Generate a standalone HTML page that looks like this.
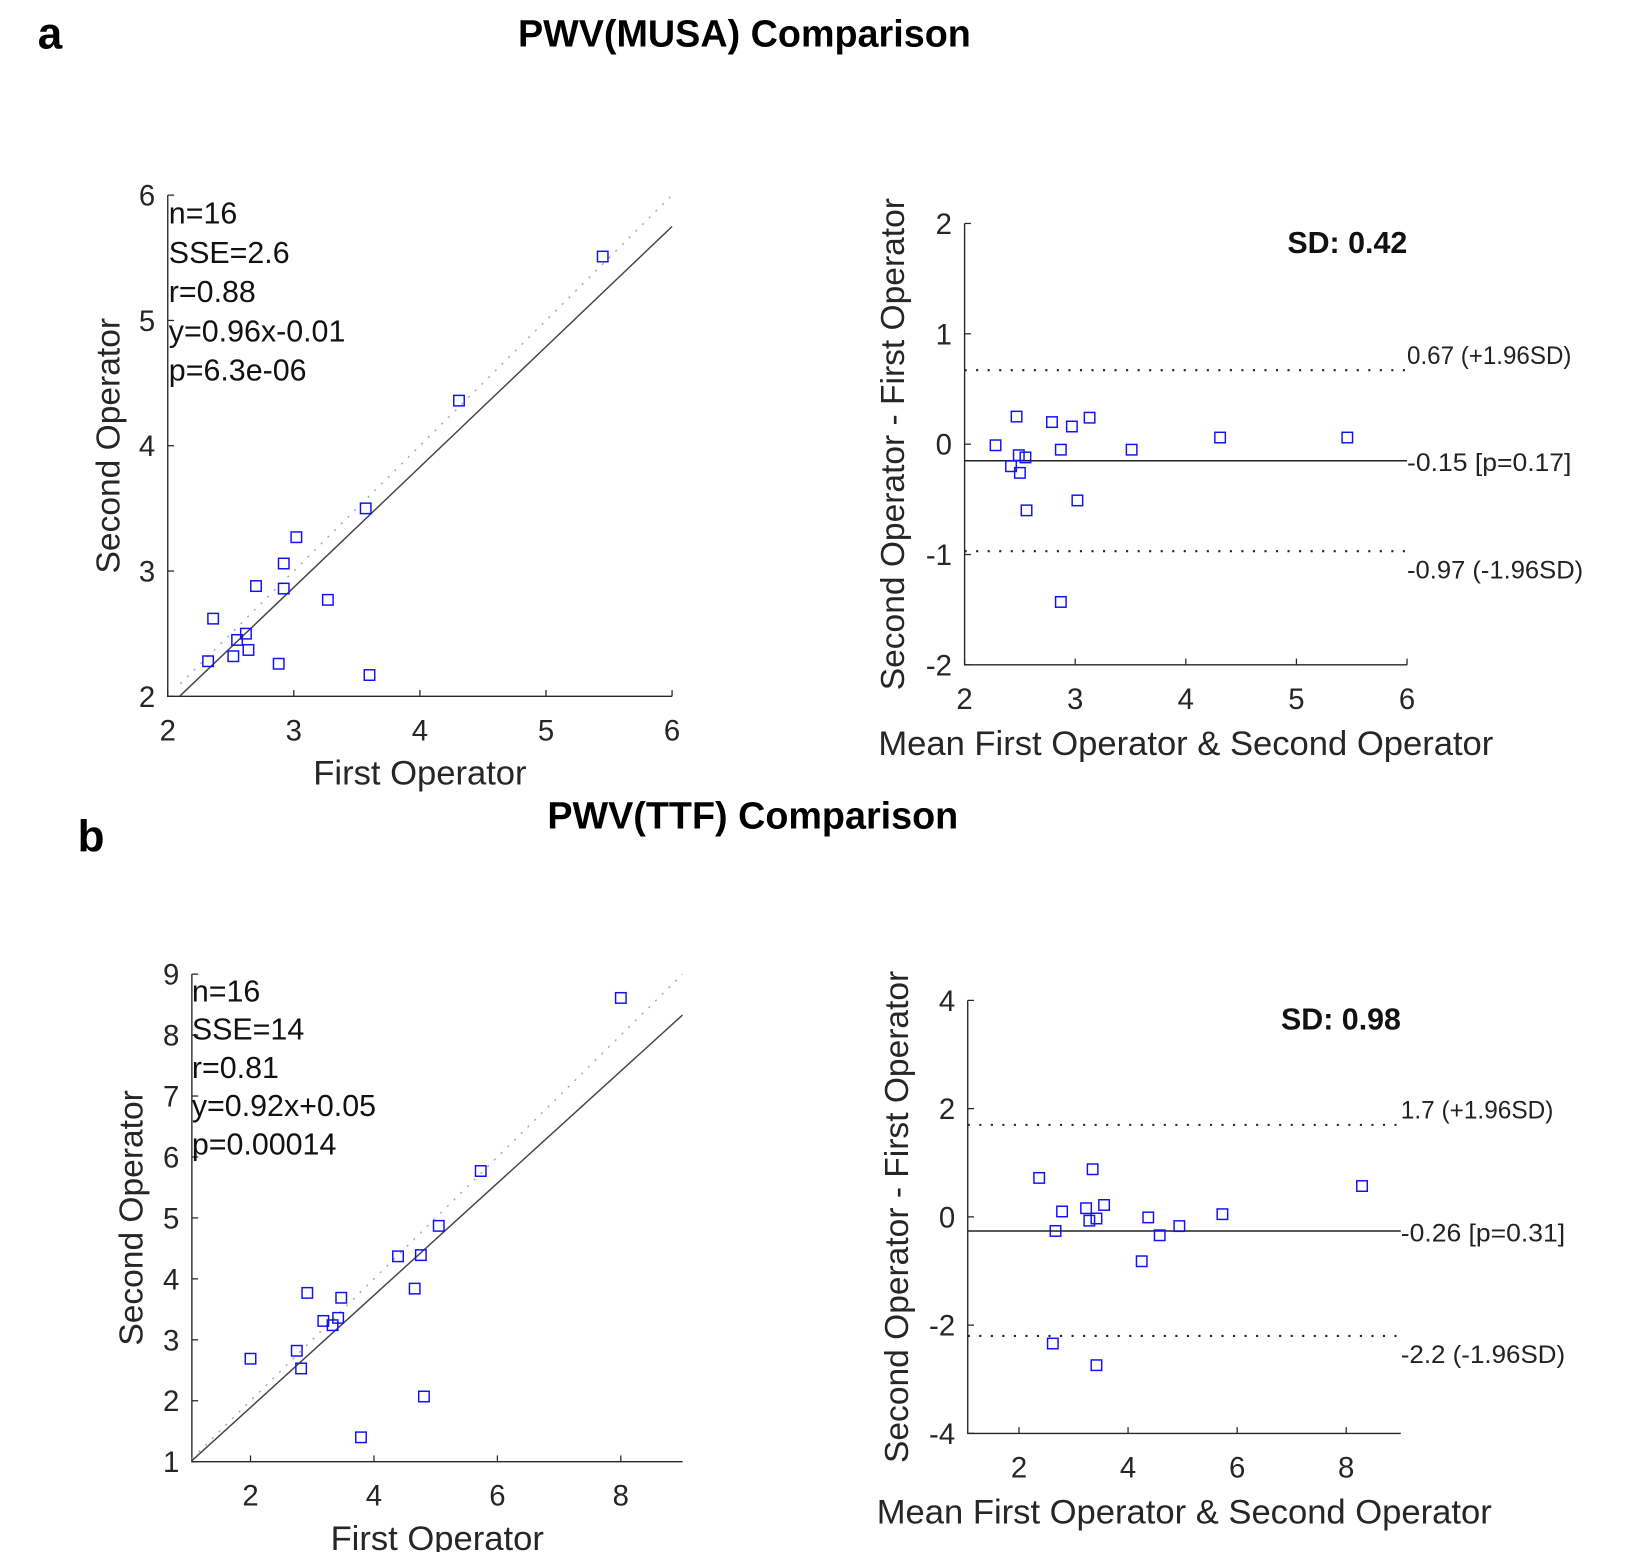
<!DOCTYPE html>
<html><head><meta charset="utf-8"><style>
html,body{margin:0;padding:0;background:#fff;}
svg{display:block;font-family:"Liberation Sans",Arial,sans-serif;}
</style></head><body>
<svg id="fig" width="1644" height="1552" viewBox="0 0 1568 1480" xmlns="http://www.w3.org/2000/svg">
<text x="36" y="46" font-size="42" font-weight="bold">a</text>
<text x="710" y="44" font-size="36" font-weight="bold" text-anchor="middle">PWV(MUSA) Comparison</text>
<text x="74" y="812" font-size="42" font-weight="bold">b</text>
<text x="718" y="790" font-size="36" font-weight="bold" text-anchor="middle">PWV(TTF) Comparison</text>
</svg>
<script>
// Panel a scatter data
const aFirst = [2.32,2.36,2.55,2.52,2.62,2.64,2.70,2.88,2.92,2.92,3.02,3.27,3.57,3.60,4.31,5.45];
const aSecond = [2.28,2.62,2.45,2.32,2.50,2.37,2.88,2.26,3.06,2.86,3.27,2.77,3.50,2.17,4.36,5.51];
const aFit = [0.96,-0.01];
const aStats = ["n=16","SSE=2.6","r=0.88","y=0.96x-0.01","p=6.3e-06"];
// Panel a Bland-Altman data
const aMean = [2.28,2.47,2.49,2.42,2.55,2.50,2.79,2.56,2.97,2.87,3.13,3.02,3.51,2.87,4.31,5.46];
const aDiff = [-0.01,0.25,-0.10,-0.20,-0.12,-0.26,0.20,-0.60,0.16,-0.05,0.24,-0.51,-0.05,-1.43,0.06,0.06];
const aLines = [0.67,-0.15,-0.97];
const aLineLabels = ["0.67 (+1.96SD)","-0.15 [p=0.17]","-0.97 (-1.96SD)"];
// Panel b scatter data
const bFirst = [2.0,2.75,2.82,2.92,3.18,3.33,3.42,3.47,3.79,4.39,4.66,4.76,4.81,5.05,5.73,8.0];
const bSecond = [2.69,2.82,2.53,3.77,3.31,3.24,3.36,3.69,1.40,4.37,3.84,4.39,2.07,4.87,5.77,8.61];
const bFit = [0.92,0.05];
const bStats = ["n=16","SSE=14","r=0.81","y=0.92x+0.05","p=0.00014"];
// Panel b Bland-Altman data
const bMean = [2.37,2.67,2.79,2.62,3.23,3.35,3.29,3.42,3.56,3.42,4.25,4.37,4.58,4.94,5.73,8.29];
const bDiff = [0.72,-0.26,0.10,-2.34,0.16,0.88,-0.07,-0.03,0.22,-2.74,-0.82,-0.01,-0.34,-0.17,0.05,0.57];
const bLines = [1.7,-0.26,-2.2];
const bLineLabels = ["1.7 (+1.96SD)","-0.26 [p=0.31]","-2.2 (-1.96SD)"];
const aXTicks=[2,3,4,5,6], aYTicks=[2,3,4,5,6], aBAYTicks=[-2,-1,0,1,2];
const bXTicks=[2,4,6,8], bYTicks=[1,2,3,4,5,6,7,8,9], bBAXTicks=[2,4,6,8], bBAYTicks=[-4,-2,0,2,4];

const svg=document.getElementById('fig');
const NS='http://www.w3.org/2000/svg';
function el(tag,attrs,parent,text){const e=document.createElementNS(NS,tag);for(const k in attrs)e.setAttribute(k,attrs[k]);if(text!==undefined)e.textContent=text;(parent||svg).appendChild(e);return e;}
function scale(d0,d1,r0,r1){return v=>r0+(v-d0)/(d1-d0)*(r1-r0);}

function axes(g,X,Y,box,xt,yt,xlabel,ylabel,ylabX){
  const [x0,x1,y0,y1]=box;
  const ax=el('path',{d:`M${x0} ${y0}V${y1}H${x1}`,fill:'none',stroke:'#262626','stroke-width':1.3},g);
  
  xt.forEach(v=>{const px=X(v);
    el('line',{x1:px,x2:px,y1:y1,y2:y1-6,stroke:'#262626','stroke-width':1.2},g);
    const t=el('text',{x:px,y:y1+42,'font-size':28,'text-anchor':'middle',fill:'#262626'},g,String(v));
    });
  yt.forEach(v=>{const py=Y(v);
    el('line',{x1:x0,x2:x0+6,y1:py,y2:py,stroke:'#262626','stroke-width':1.2},g);
    const t=el('text',{x:x0-12,y:py+10,'font-size':28,'text-anchor':'end',fill:'#262626'},g,String(v));
    });
  const xl=el('text',{x:xlabel[1],y:xlabel[2],'font-size':33,'text-anchor':'middle',fill:'#262626'},g,xlabel[0]);
  
  const yl=el('text',{x:0,y:0,'font-size':32,'text-anchor':'middle',fill:'#262626',transform:`translate(${ylabX},${(y0+y1)/2}) rotate(-90)`},g,ylabel);
  
}
function points(g,X,Y,xs,ys){
  xs.forEach((v,i)=>{const r=el('rect',{x:X(v)-5,y:Y(ys[i])-5,width:10,height:10,fill:'none',stroke:'#1010ff','stroke-width':1.4},g);
    });
}
function scatter(name,box,dom,xt,yt,xs,ys,fit,stats,fx0,statX,statY,statStep,ylabX){
  const g=el('g',{});
  const X=scale(dom[0],dom[1],box[0],box[1]),Y=scale(dom[2],dom[3],box[3],box[2]);
  axes(g,X,Y,box,xt,yt,['First Operator',(box[0]+box[1])/2,box[3]+84],'Second Operator',ylabX);
  const id=el('line',{x1:X(fx0),y1:Y(fx0),x2:X(dom[1]),y2:Y(dom[1]),stroke:'#aaa','stroke-width':1.4,'stroke-dasharray':'2 7'},g);
  
  const xa=(dom[2]-fit[1])/fit[0];const xs0=Math.max(xa,dom[0]);
  const fl=el('line',{x1:X(xs0),y1:Y(fit[0]*xs0+fit[1]),x2:X(dom[1]),y2:Y(fit[0]*dom[1]+fit[1]),stroke:'#444','stroke-width':1.4},g);
  
  points(g,X,Y,xs,ys);
  stats.forEach((s,i)=>{const t=el('text',{x:statX,y:statY+i*statStep,'font-size':29,fill:'#111'},g,s);
    });
}
function ba(name,box,dom,xt,yt,xs,ys,lines,labels,sd,sdPos,ylabX){
  const g=el('g',{});
  const X=scale(dom[0],dom[1],box[0],box[1]),Y=scale(dom[2],dom[3],box[3],box[2]);
  axes(g,X,Y,box,xt,yt,['Mean First Operator & Second Operator',(box[0]+box[1])/2,box[3]+86],'Second Operator - First Operator',ylabX);
  lines.forEach((v,i)=>{const l=el('line',{x1:box[0],x2:box[1],y1:Y(v),y2:Y(v),stroke:'#222','stroke-width':i===1?1.4:2,'stroke-dasharray':i===1?'none':'2 9'},g);
    
    const t=el('text',{x:box[1],y:Y(v)+(i===1?10:(i===0?-6:26)),'font-size':24,fill:'#222',textLength:labels[i].length*11.2,lengthAdjust:'spacingAndGlyphs'},g,labels[i]);
    });
  points(g,X,Y,xs,ys);
  const s=el('text',{x:sdPos[0],y:sdPos[1],'font-size':29,'font-weight':'bold','text-anchor':'middle',fill:'#111'},g,sd);
  
}
scatter('scatter-musa',[160,641,186,664],[2,6,2,6],aXTicks,aYTicks,aFirst,aSecond,aFit,aStats,2.1,161,213,37.5,114);
ba('bland-altman-musa',[920,1342,213,634],[2,6,-2,2],[2,3,4,5,6],aBAYTicks,aMean,aDiff,aLines,aLineLabels,'SD: 0.42',[1285,241],862);
scatter('scatter-ttf',[183,651,929,1394],[1.05,9,1,9],bXTicks,bYTicks,bFirst,bSecond,bFit,bStats,1.05,183,955,36.5,136);
ba('bland-altman-ttf',[923,1336,954,1367],[1.06,9,-4,4],bBAXTicks,bBAYTicks,bMean,bDiff,bLines,bLineLabels,'SD: 0.98',[1279,982],866);
</script>
</body></html>
